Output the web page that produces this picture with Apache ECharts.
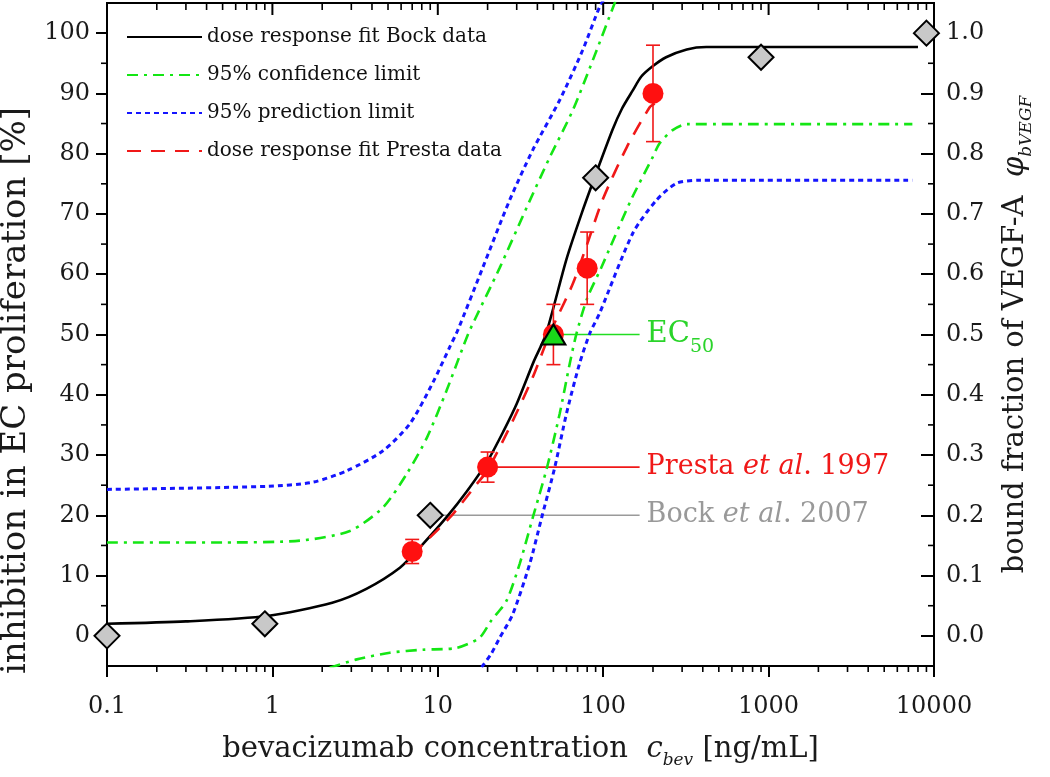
<!DOCTYPE html>
<html>
<head>
<meta charset="utf-8">
<script src="https://cdn.jsdelivr.net/npm/echarts@6/dist/echarts.min.js"></script>
<style>html,body{margin:0;padding:0;background:#fff}#c{width:1050px;height:777px}</style>
</head>
<body>
<div id="c"></div>
<script>
// ---- data ----
const bockX = [0.1, 0.9, 9, 90, 900, 9000];
const bockY = [0, 2, 20, 76, 96, 100];

const prestaX = [7, 20, 50, 80, 200];
const prestaY = [14, 28, 50, 61, 90];
const prestaErr = [2, 2.5, 5, 6, 8];

const ec50X = [50];
const ec50Y = [50];

const fitBockX = [0.1, 0.3, 0.93, 2.3, 3.7, 5.9, 7.8, 11.3, 15, 20, 25, 30, 38, 45, 60, 75, 90, 114, 130, 151, 170, 199, 240, 320, 420, 8000];
const fitBockY = [2.0, 2.4, 3.3, 5.5, 7.8, 11.3, 14.7, 19.7, 24, 29, 34, 38.5, 45.5, 50, 62.5, 70.5, 76.5, 84, 87.5, 90.5, 92.8, 94.5, 96.0, 97.3, 97.7, 97.7];

const fitPrestaX = [7, 11.8, 17.2, 20, 27.2, 37.5, 45.7, 50, 65.5, 80, 99, 139, 191, 205];
const fitPrestaY = [13.5, 19.6, 25.2, 27.5, 34.6, 42.9, 49, 51.5, 58.4, 65, 72.3, 81.1, 87.7, 88.3];

const confUpperX = [0.1, 0.5, 1.47, 2.94, 4.66, 6.5, 8.6, 11.3, 14.2, 15.6, 23.7, 34.5, 47.5, 65.5, 86.5, 117, 130];
const confUpperY = [15.5, 15.5, 15.8, 17.4, 21.3, 26.9, 32.9, 40.7, 47.9, 50.7, 61.1, 71.1, 79.4, 87.2, 95.5, 104.9, 108];

const confLowerX = [2.22, 3.24, 5.13, 8.1, 13, 17.9, 21, 26, 31.3, 37.5, 45.7, 54.6, 62.8, 69, 80, 97, 146, 199, 219, 263, 320, 7400];
const confLowerY = [-5.3, -3.9, -2.8, -2.3, -2.0, -0.3, 2.5, 5.8, 12, 19.6, 27.9, 36.9, 45.2, 50.2, 56, 61, 72.1, 79.4, 81.7, 83.9, 84.9, 84.9];

const predUpperX = [0.1, 0.93, 1.76, 2.82, 4.66, 6.78, 9.33, 11.8, 13.2, 18.7, 27.2, 37.5, 54.6, 75.2, 95.3, 106];
const predUpperY = [24.3, 24.8, 25.5, 27.4, 30.7, 35.2, 42, 47.9, 50.7, 61.1, 72.3, 80.6, 88.9, 97.2, 104.4, 106.5];

const predLowerX = [18.4, 21, 23.7, 28.4, 36, 43, 50.9, 60, 72, 83, 95, 151, 210, 278, 383, 7400];
const predLowerY = [-5.2, -3, -0.3, 3.6, 12, 20.2, 27.9, 36.9, 45.2, 50.2, 53.5, 66.8, 72.3, 75.1, 75.6, 75.6];

// annotation connector lines: [startX, endX, y]
const annoEC50 = [50, 166, 50];
const annoPresta = [20, 166, 28];
const annoBock = [9, 166, 20];

const xTickLabels = ['0.1', '1', '10', '100', '1000', '10000'];
const xMajor = [0.1, 1, 10, 100, 1000, 10000];
const xMinor = [0.2,0.3,0.4,0.5,0.6,0.7,0.8,0.9, 2,3,4,5,6,7,8,9, 20,30,40,50,60,70,80,90, 200,300,400,500,600,700,800,900, 2000,3000,4000,5000,6000,7000,8000,9000];
const yLeftMajor = [0,10,20,30,40,50,60,70,80,90,100];
const yLeftMinor = [5,15,25,35,45,55,65,75,85,95];
const yRightMajor = [0,0.1,0.2,0.3,0.4,0.5,0.6,0.7,0.8,0.9,1.0];
const yRightMinor = [0.05,0.15,0.25,0.35,0.45,0.55,0.65,0.75,0.85,0.95];
const yRightLabels = ['0.0','0.1','0.2','0.3','0.4','0.5','0.6','0.7','0.8','0.9','1.0'];

// ---- build ----
const zip = (xs, ys) => xs.map((x, i) => [x, ys[i]]);
const FONT = 'DejaVu Serif';
const GREEN = '#14e614', BLUE = '#1515ff', RED = '#f01818', BLACK = '#000';
const TXT = '#1a1a1a';

const chart = echarts.init(document.getElementById('c'), null, {renderer: 'canvas'});

function curve(name, xs, ys, color, width, type) {
  return {
    name, type: 'line', data: zip(xs, ys), symbol: 'none', smooth: 0.25,
    lineStyle: {color, width, type}, itemStyle: {color}, z: 3, clip: true
  };
}
function anno(a, color, fmt, rich) {
  return {
    type: 'line', data: [[a[0], a[2]], [a[1], a[2]]], symbol: 'none',
    lineStyle: {color, width: 1.6}, z: 2, silent: true,
    endLabel: {show: true, formatter: fmt, distance: 7, rich, fontFamily: FONT, fontSize: 28, color}
  };
}
// tick marks drawn through the axes' own scales
function ticks(values, side, len, width, scale) {
  const isX = side === 'bottom' || side === 'top';
  return {
    type: 'custom', silent: true, z: 10, clip: false,
    data: values.map(v => isX ? [v, 50] : [1, v * (scale || 1)]),
    renderItem: (params, api) => {
      const cs = params.coordSys;
      const p = api.coord([api.value(0), api.value(1)]);
      let shape;
      if (side === 'bottom') shape = {x1: p[0], y1: cs.y + cs.height, x2: p[0], y2: cs.y + cs.height + len};
      else if (side === 'top') shape = {x1: p[0], y1: cs.y, x2: p[0], y2: cs.y + len};
      else if (side === 'left') shape = {x1: cs.x, y1: p[1], x2: cs.x - len, y2: p[1]};
      else shape = {x1: cs.x + cs.width, y1: p[1], x2: cs.x + cs.width - len, y2: p[1]};
      return {type: 'line', shape, style: {stroke: BLACK, lineWidth: width}};
    }
  };
}

const option = {
  animation: false,
  backgroundColor: '#fff',
  grid: {left: 107, right: 116, top: 3, bottom: 111, containLabel: false, outerBoundsMode: 'none',
    show: true, borderColor: BLACK, borderWidth: 2, backgroundColor: 'transparent'},
  legend: {
    orient: 'vertical', left: 121, top: 22, itemWidth: 75, itemHeight: 14, itemGap: 18,
    itemStyle: {opacity: 0},
    textStyle: {fontFamily: FONT, fontSize: 20, color: '#111', lineHeight: 20},
    data: ['dose response fit Bock data', '95% confidence limit', '95% prediction limit', 'dose response fit Presta data']
  },
  xAxis: [{
    type: 'log', logBase: 10, min: 0.1, max: 10000, splitLine: {show: false},
    position: 'bottom',
    axisLine: {show: true, onZero: false, lineStyle: {color: BLACK, width: 2}},
    axisTick: {show: true, inside: false, length: 11, lineStyle: {color: BLACK, width: 2}, customValues: xMajor},
    axisLabel: {show: true, margin: 29, fontFamily: FONT, fontSize: 24, color: TXT,
      customValues: xMajor,
      formatter: v => { const i = xMajor.findIndex(m => Math.abs(Math.log10(m) - Math.log10(v)) < 1e-6); return i >= 0 ? xTickLabels[i] : ''; }},
    name: '{t|bevacizumab concentration  }{c|c}{s|bev}{t| [ng/mL]}',
    nameLocation: 'middle', nameGap: 64,
    nameTextStyle: {fontFamily: FONT, fontSize: 29, color: TXT,
      rich: {t: {fontFamily: FONT, fontSize: 29, color: TXT},
             c: {fontFamily: FONT, fontSize: 29, fontStyle: 'italic', color: TXT},
             s: {fontFamily: FONT, fontSize: 17, fontStyle: 'italic', color: TXT, padding: [22, 0, 0, 0]}}}
  }],
  yAxis: [{
    type: 'value', min: -5, max: 105, splitLine: {show: false},
    position: 'left',
    axisLine: {show: true, lineStyle: {color: BLACK, width: 2}},
    axisTick: {show: true, inside: false, length: 11, lineStyle: {color: BLACK, width: 2}, customValues: yLeftMajor},
    axisLabel: {show: true, margin: 17, fontFamily: FONT, fontSize: 24, color: TXT, customValues: yLeftMajor},
    name: 'inhibition in EC proliferation [%]', nameLocation: 'middle', nameRotate: 90, nameGap: 67,
    nameTextStyle: {fontFamily: FONT, fontSize: 34, color: TXT, padding: [0, 112, 0, 0]}
  }, {
    type: 'value', min: -0.05, max: 1.05, splitLine: {show: false},
    position: 'right',
    axisLine: {show: true, lineStyle: {color: BLACK, width: 2}},
    axisTick: {show: true, inside: true, length: 13, lineStyle: {color: BLACK, width: 2}, customValues: yRightMajor},
    axisLabel: {show: true, margin: 12, fontFamily: FONT, fontSize: 24, color: TXT, customValues: yRightMajor,
      formatter: v => { const i = yRightMajor.findIndex(m => Math.abs(m - v) < 1e-6); return i >= 0 ? yRightLabels[i] : ''; }},
    name: '{t|bound fraction of VEGF-A  }{p|φ}{s|bVEGF}', nameLocation: 'middle', nameRotate: 90, nameGap: 62,
    nameTextStyle: {fontFamily: FONT, fontSize: 29, color: TXT,
      rich: {t: {fontFamily: FONT, fontSize: 29, color: TXT},
             p: {fontFamily: FONT, fontSize: 29, fontStyle: 'italic', color: TXT},
             s: {fontFamily: FONT, fontSize: 17, fontStyle: 'italic', color: TXT, padding: [22, 0, 0, 0]}}}
  }],
  series: [
    curve('dose response fit Bock data', fitBockX, fitBockY, BLACK, 2.6, 'solid'),
    curve('95% confidence limit', confUpperX, confUpperY, GREEN, 2.6, [11, 6, 3, 6]),
    curve('95% confidence limit', confLowerX, confLowerY, GREEN, 2.6, [11, 6, 3, 6]),
    curve('95% prediction limit', predUpperX, predUpperY, BLUE, 3, [5, 4]),
    curve('95% prediction limit', predLowerX, predLowerY, BLUE, 3, [5, 4]),
    curve('dose response fit Presta data', fitPrestaX, fitPrestaY, RED, 2.6, [14, 10]),
    anno(annoEC50, '#22dd22', () => '{a|EC}{b|50}',
      {a: {fontFamily: FONT, fontSize: 29, color: '#2ad42a'}, b: {fontFamily: FONT, fontSize: 19, color: '#2ad42a', padding: [26, 0, 0, 0]}}),
    anno(annoPresta, RED, () => '{a|Presta }{i|et al}{a|. 1997}',
      {a: {fontFamily: FONT, fontSize: 27, color: RED}, i: {fontFamily: FONT, fontSize: 27, fontStyle: 'italic', color: RED}}),
    anno(annoBock, '#9a9a9a', () => '{a|Bock }{i|et al}{a|. 2007}',
      {a: {fontFamily: FONT, fontSize: 27, color: '#999'}, i: {fontFamily: FONT, fontSize: 27, fontStyle: 'italic', color: '#999'}}),
    {
      type: 'custom', z: 4, silent: true,
      data: prestaX.map((x, i) => [x, prestaY[i], prestaErr[i]]),
      renderItem: (params, api) => {
        const x = api.value(0), y = api.value(1), e = api.value(2);
        const t = api.coord([x, y + e]), b = api.coord([x, y - e]);
        const w = 7;
        const st = {stroke: RED, lineWidth: 1.6};
        return {type: 'group', children: [
          {type: 'line', shape: {x1: t[0], y1: t[1], x2: b[0], y2: b[1]}, style: st},
          {type: 'line', shape: {x1: t[0] - w, y1: t[1], x2: t[0] + w, y2: t[1]}, style: st},
          {type: 'line', shape: {x1: b[0] - w, y1: b[1], x2: b[0] + w, y2: b[1]}, style: st}
        ]};
      }
    },
    {type: 'scatter', data: zip(prestaX, prestaY), symbol: 'circle', symbolSize: 21,
      itemStyle: {color: '#ff1010', borderWidth: 0, opacity: 1}, z: 5, silent: true},
    {type: 'scatter', data: zip(bockX, bockY), symbol: 'diamond', symbolSize: [25, 25],
      itemStyle: {color: '#c8c8c8', borderColor: '#000', borderWidth: 2, opacity: 1}, z: 6, silent: true},
    {type: 'scatter', data: zip(ec50X, ec50Y), symbol: 'triangle', symbolSize: [24, 20],
      itemStyle: {color: '#19d919', borderColor: '#000', borderWidth: 2, opacity: 1}, z: 7, silent: true},
    ticks(xMinor, 'bottom', 6, 1.6),
    ticks(xMajor, 'top', 12, 2),
    ticks(xMinor, 'top', 7, 1.6),
    ticks(yLeftMinor, 'left', 6, 1.6),
    ticks(yRightMinor, 'right', 6, 1.6, 100)
  ]
};
chart.setOption(option);
</script>
</body>
</html>
